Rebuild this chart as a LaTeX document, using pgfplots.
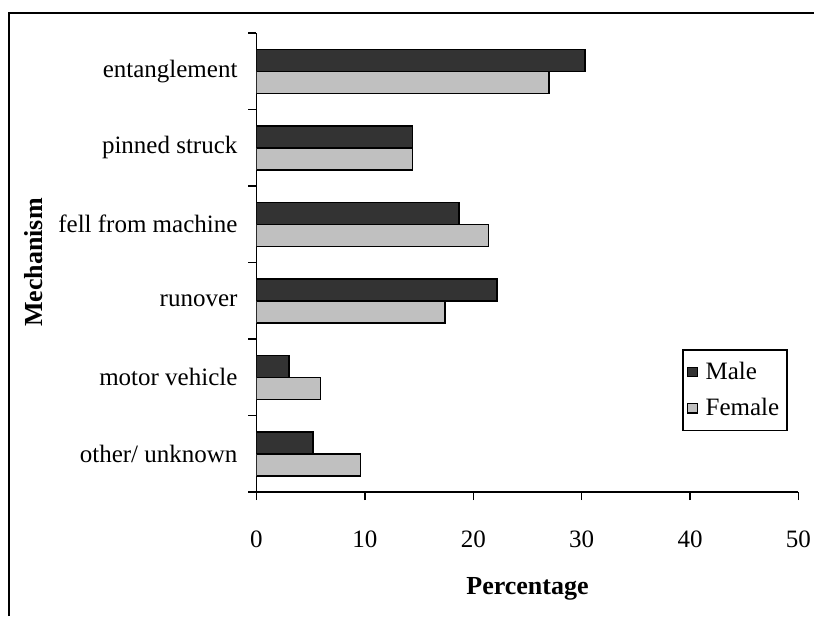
\documentclass[border=0pt]{standalone}
\usepackage{fontspec}
\setmainfont{Liberation Serif}
\usepackage{pgfplots}
\pgfplotsset{compat=1.18}
\definecolor{maledark}{HTML}{333333}
\definecolor{femalegray}{HTML}{C0C0C0}
\begin{document}
\begin{tikzpicture}
\begin{axis}[
  scale only axis, width=271pt, height=229.5pt,
  xbar=0pt, bar width=11pt,
  axis lines*=left, axis line style={line width=0.75pt},
  xmin=0, xmax=50, ymin=-0.5, ymax=5.5,
  xtick={0,10,...,50},
  ytick={0,...,5},
  yticklabels={other/ unknown,motor vehicle,runover,fell from machine,pinned struck,entanglement},
  minor ytick={-0.5,0.5,...,5.5},
  tick align=outside, major tick length=4pt, minor tick length=4pt,
  major y tick style={draw=none},
  tick style={line width=0.75pt, black},
  /pgf/number format/assume math mode=true,
  tick label style={font=\fontsize{12.5}{15}\selectfont},
  yticklabel style={xshift=-2pt},
  xticklabel style={yshift=-12pt},
  xlabel={Percentage}, ylabel={Mechanism},
  label style={font=\fontsize{13}{15}\selectfont\bfseries},
  xlabel style={at={(axis description cs:0.5,-0.21)}, anchor=center},
  ylabel style={at={(axis description cs:-0.4105,0.5)}, anchor=center},
  legend style={at={(axis description cs:0.9806,0.3115)}, anchor=north east,
    draw=black, line width=0.75pt, font=\fontsize{12.5}{15}\selectfont,
    row sep=4pt, inner xsep=2pt, inner ysep=4pt},
  legend cell align=left,
  legend image code/.code={\draw[#1,line width=0.6pt] (0pt,-2.4pt) rectangle (4.8pt,2.4pt);
    \path[draw=none,fill=none] (0pt,0pt) rectangle (7pt,0pt);},
]
\addplot[fill=maledark, draw=black, line width=0.75pt, bar shift=5.5pt] coordinates {
  (30.3,5) (14.4,4) (18.7,3) (22.2,2) (3.0,1) (5.2,0)};
\addplot[fill=femalegray, draw=black, line width=0.75pt, bar shift=-5.5pt] coordinates {
  (27.0,5) (14.4,4) (21.4,3) (17.4,2) (5.9,1) (9.6,0)};
\legend{Male,Female}
\end{axis}
% outer frame: only its left and top sides fall inside the picture
\draw[line width=1pt] (-123.75pt,-62pt) -- (-123.75pt,239.5pt) -- (278.75pt,239.5pt);
\pgfresetboundingbox
\useasboundingbox (-128.25pt,-62pt) rectangle (278.75pt,246pt);
\end{tikzpicture}
\end{document}
